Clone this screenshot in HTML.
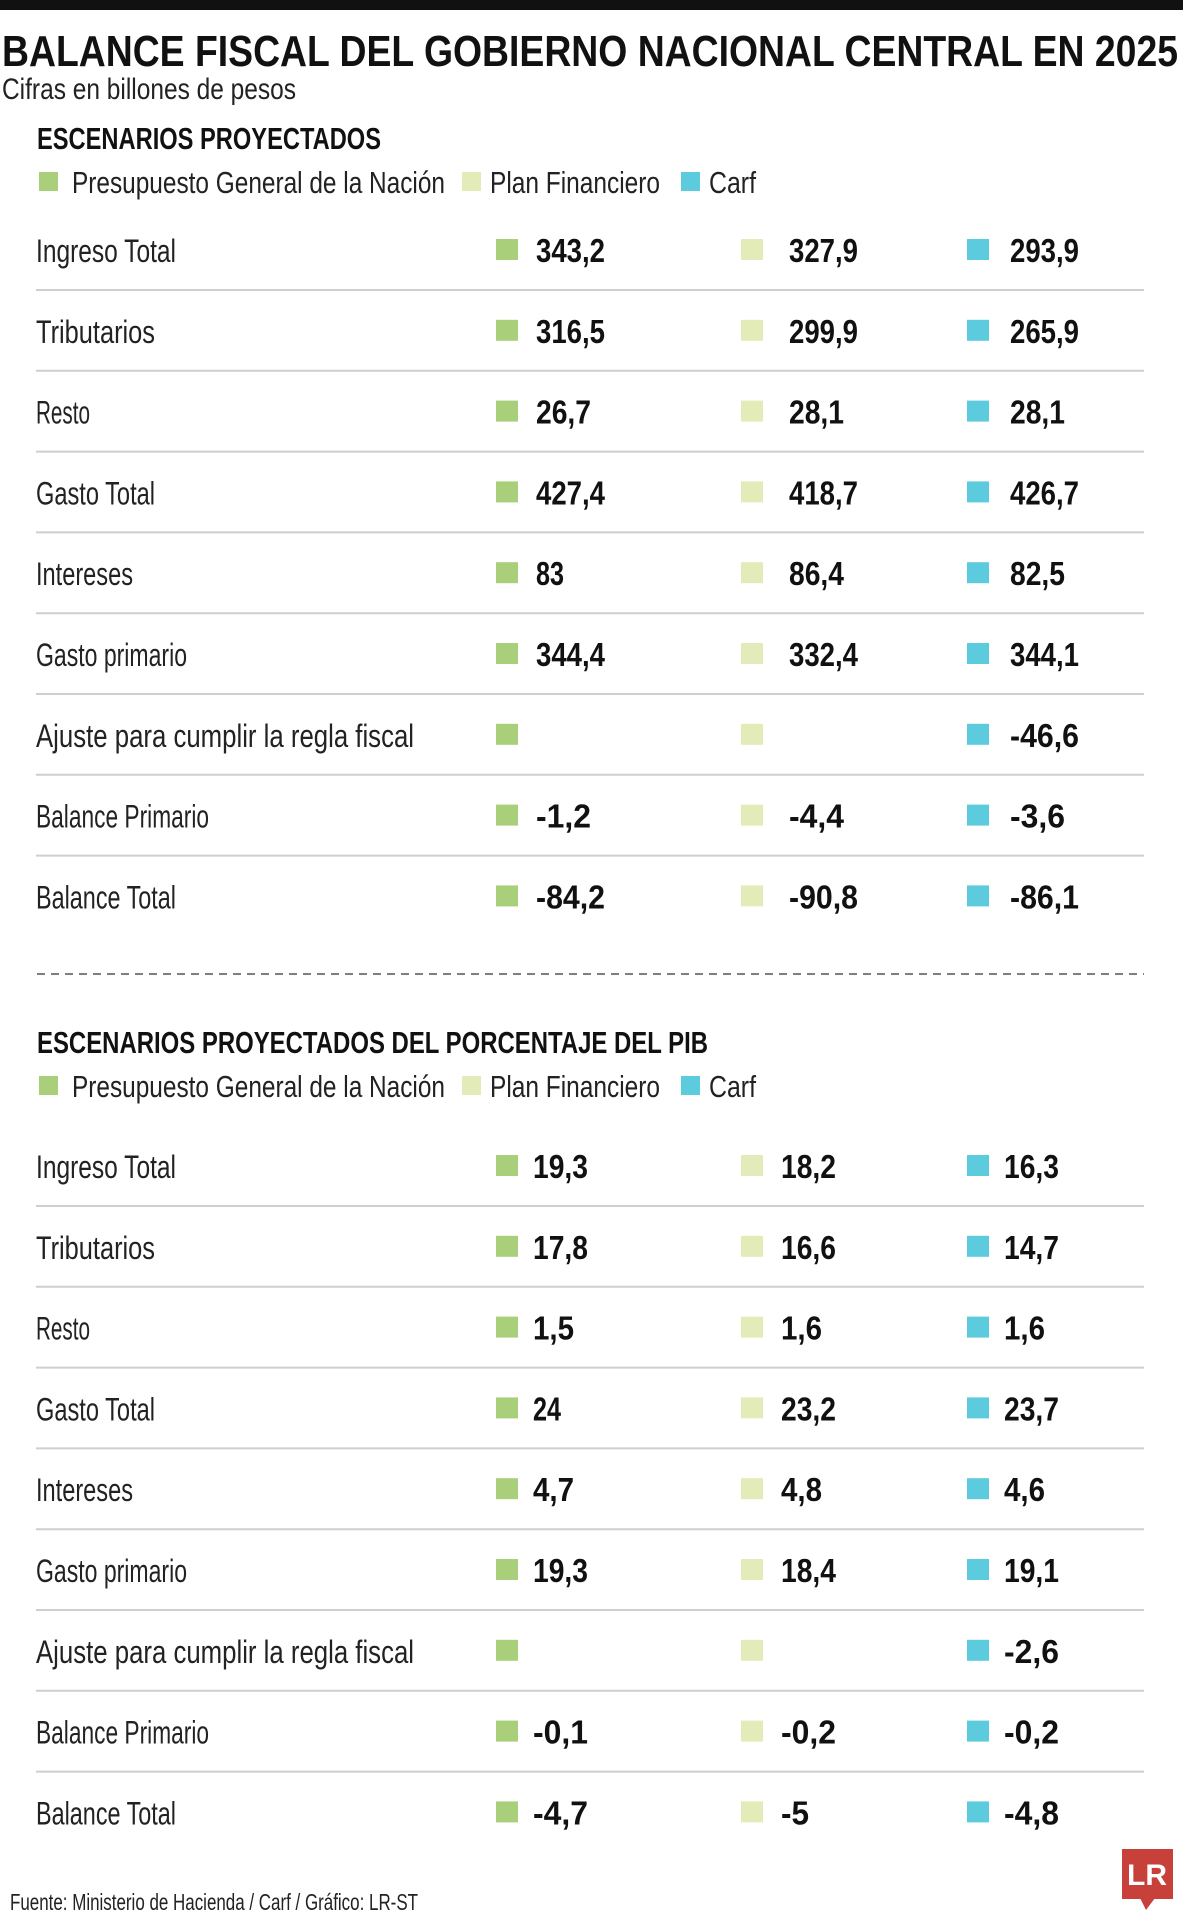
<!DOCTYPE html>
<html><head><meta charset="utf-8">
<style>
html,body{margin:0;padding:0;background:#fff;}
svg{display:block;}
text{font-family:"Liberation Sans Narrow","Liberation Sans",sans-serif;}
</style></head>
<body>
<svg id="chart" width="1183" height="1920" viewBox="0 0 1183 1920" xmlns="http://www.w3.org/2000/svg">
<rect x="0" y="0" width="1183" height="10" fill="#111"/>
<text x="2" y="66" font-size="44" font-weight="bold" fill="#111" textLength="1176" lengthAdjust="spacingAndGlyphs">BALANCE FISCAL DEL GOBIERNO NACIONAL CENTRAL EN 2025</text>
<text x="2" y="99" font-size="30" fill="#222" textLength="294" lengthAdjust="spacingAndGlyphs">Cifras en billones de pesos</text>
<line x1="37" y1="974" x2="1144" y2="974" stroke="#555" stroke-width="1.5" stroke-dasharray="8,6"/>
<text x="10" y="1910" font-size="23" fill="#222" textLength="408" lengthAdjust="spacingAndGlyphs">Fuente: Ministerio de Hacienda / Carf / Gráfico: LR-ST</text>
<g>
<rect x="1122" y="1849" width="51" height="50" fill="#c8403a"/>
<polygon points="1140,1898 1155,1898 1146,1910" fill="#c8403a"/>
<text x="1147" y="1885" font-size="30" font-weight="bold" fill="#fff" text-anchor="middle" font-family="Liberation Serif,serif">LR</text>
</g>
</svg>
<script>
const labels = ["Ingreso Total","Tributarios","Resto","Gasto Total","Intereses","Gasto primario","Ajuste para cumplir la regla fiscal","Balance Primario","Balance Total"];
const seriesNames = ["Presupuesto General de la Nación","Plan Financiero","Carf"];
const s1PGN = ["343,2","316,5","26,7","427,4","83","344,4","","-1,2","-84,2"];
const s1Plan = ["327,9","299,9","28,1","418,7","86,4","332,4","","-4,4","-90,8"];
const s1Carf = ["293,9","265,9","28,1","426,7","82,5","344,1","-46,6","-3,6","-86,1"];
const s2PGN = ["19,3","17,8","1,5","24","4,7","19,3","","-0,1","-4,7"];
const s2Plan = ["18,2","16,6","1,6","23,2","4,8","18,4","","-0,2","-5"];
const s2Carf = ["16,3","14,7","1,6","23,7","4,6","19,1","-2,6","-0,2","-4,8"];

const NS="http://www.w3.org/2000/svg";
const svg=document.getElementById('chart');
const colors=["#a9cf7b","#e3ebb8","#5ccbdd"];
const legX=[[39,72,373],[462,490,170],[681,709,47]];
const sqX=[496,741,967];
function mk(tag,attrs,parent){const e=document.createElementNS(NS,tag);for(const k in attrs)e.setAttribute(k,attrs[k]);(parent||svg).appendChild(e);return e;}

function section(title,titleW,titleY,legY,rowY0,series,prefix,valX){
  const g=mk('g',{});
  
  
  const t=mk('text',{x:37,y:titleY,'font-size':31,'font-weight':'bold',fill:'#111',textLength:titleW,lengthAdjust:'spacingAndGlyphs'},g);
  t.textContent=title;
  
  
  seriesNames.forEach((n,i)=>{
    const r=mk('rect',{x:legX[i][0],y:legY-10,width:19,height:19,fill:colors[i]},g);
    
    
    const lt=mk('text',{x:legX[i][1],y:legY+11,'font-size':31,fill:'#222',textLength:legX[i][2],lengthAdjust:'spacingAndGlyphs'},g);
    lt.textContent=n;
    
    
  });
  const step=80.8;
  labels.forEach((lab,j)=>{
    const cy=rowY0+j*step;
    const lt=mk('text',{x:36,y:cy+12,'font-size':32,fill:'#222',textLength:Math.round(lab.length*10.8),lengthAdjust:'spacingAndGlyphs'},g);
    lt.textContent=lab;
    
    
    series.forEach((arr,i)=>{
      const r=mk('rect',{x:sqX[i],y:cy-11,width:22,height:21,fill:colors[i]},g);
      
      
      const v=arr[j];
      if(v){
        const vt=mk('text',{x:valX[i],y:cy+12,'font-size':33,'font-weight':'bold',fill:'#111',textLength:Math.round(v.length*13.8),lengthAdjust:'spacingAndGlyphs'},g);
        vt.textContent=v;
        
        
      }
    });
    if(j<labels.length-1){
      const ln=mk('line',{x1:36,x2:1144,y1:cy+40,y2:cy+40,stroke:'#cfcfcf','stroke-width':2},g);
      
      
    }
  });
}
section("ESCENARIOS PROYECTADOS",344,149,182,250,[s1PGN,s1Plan,s1Carf],'billions',[536,789,1010]);
section("ESCENARIOS PROYECTADOS DEL PORCENTAJE DEL PIB",671,1053,1086,1166,[s2PGN,s2Plan,s2Carf],'gdp-percent',[533,781,1004]);
</script>
</body></html>
